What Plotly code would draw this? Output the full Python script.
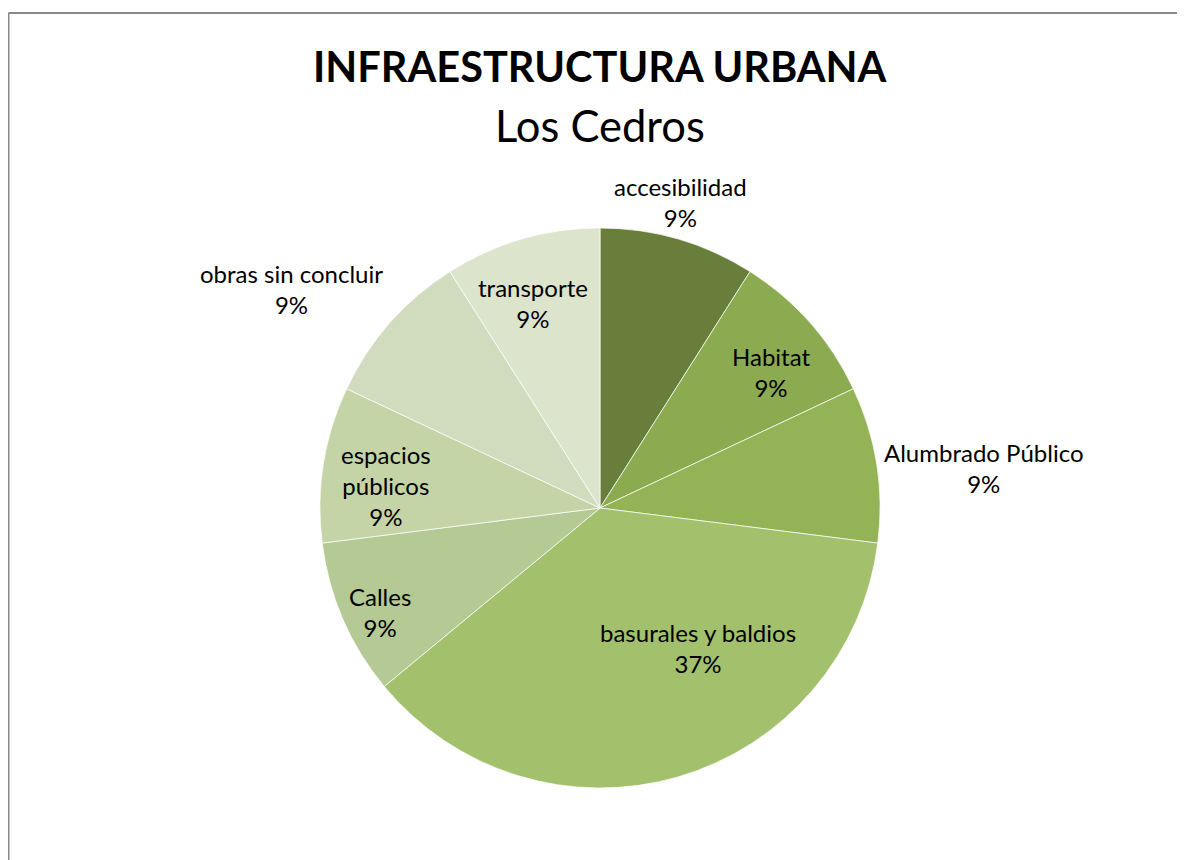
import math
import plotly.graph_objects as go

# ---- data ----
categories = ["accesibilidad", "Habitat", "Alumbrado Público", "basurales y baldios",
              "Calles", "espacios públicos", "obras sin concluir", "transporte"]
values = [9, 9, 9, 37, 9, 9, 9, 9]
label_texts = ["accesibilidad", "Habitat", "Alumbrado Público", "basurales y baldios",
               "Calles", "espacios<br>públicos", "obras sin concluir", "transporte"]

# ---- style ----
colors = ["#6A7E3C", "#8CAA50", "#94B356", "#A3C06D", "#B4C993", "#C5D4A6", "#D0DCBD", "#DCE4CC"]
label_radial = [1.13, 0.78, 1.38, 0.61, 0.87, 0.77, 1.35, 0.77]
label_shift = [-1.5, 3, 3, -19, -2, -3, -6, -2]

W, H = 1185, 860
OFF = 8  # page body margin
cx, cy, R = 600 - OFF, 508 - OFF, 280
FONT = "Lato"

fig = go.Figure(go.Pie(
    labels=categories, values=values, sort=False, direction="clockwise", rotation=0,
    marker=dict(colors=colors, line=dict(color="rgba(255,255,255,0.7)", width=1)),
    textinfo="none", hoverinfo="label+percent", showlegend=False,
    domain=dict(x=[(cx - R) / W, (cx + R) / W], y=[1 - (cy + R) / H, 1 - (cy - R) / H]),
))

total = sum(values)
annotations = []
cum = 0
for i, v in enumerate(values):
    mid = (cum + v / 2) / total * 360 + label_shift[i]
    cum += v
    r = R * label_radial[i]
    px = cx + r * math.sin(math.radians(mid))
    py = cy - r * math.cos(math.radians(mid))
    pct = round(v / total * 100)
    annotations.append(dict(
        x=px / W, y=1 - py / H, xref="paper", yref="paper", showarrow=False,
        text=f"{label_texts[i]}<br>{pct}%", xanchor="center", yanchor="middle",
        font=dict(family=FONT, size=24, color="#000000"), align="center"))

annotations.append(dict(x=cx / W, y=1 - (66 - OFF) / H, xref="paper", yref="paper", showarrow=False,
                        text="<b>INFRAESTRUCTURA URBANA</b>", xanchor="center", yanchor="middle",
                        font=dict(family=FONT, size=41.5, color="#000000")))
annotations.append(dict(x=cx / W, y=1 - (125 - OFF) / H, xref="paper", yref="paper", showarrow=False,
                        text="Los Cedros", xanchor="center", yanchor="middle",
                        font=dict(family=FONT, size=43.5, color="#000000")))

bx, by = 0.5, 13 - OFF
shapes = [
    dict(type="line", xref="paper", yref="paper", x0=bx / W, x1=bx / W, y0=0, y1=1 - by / H,
         line=dict(color="#898989", width=2)),
    dict(type="line", xref="paper", yref="paper", x0=bx / W, x1=1, y0=1 - by / H, y1=1 - by / H,
         line=dict(color="#898989", width=2)),
]

fig.update_layout(
    width=W, height=H, margin=dict(l=0, r=0, t=0, b=0),
    paper_bgcolor="white", plot_bgcolor="white",
    annotations=annotations, shapes=shapes,
)
fig.write_html("out.html")
